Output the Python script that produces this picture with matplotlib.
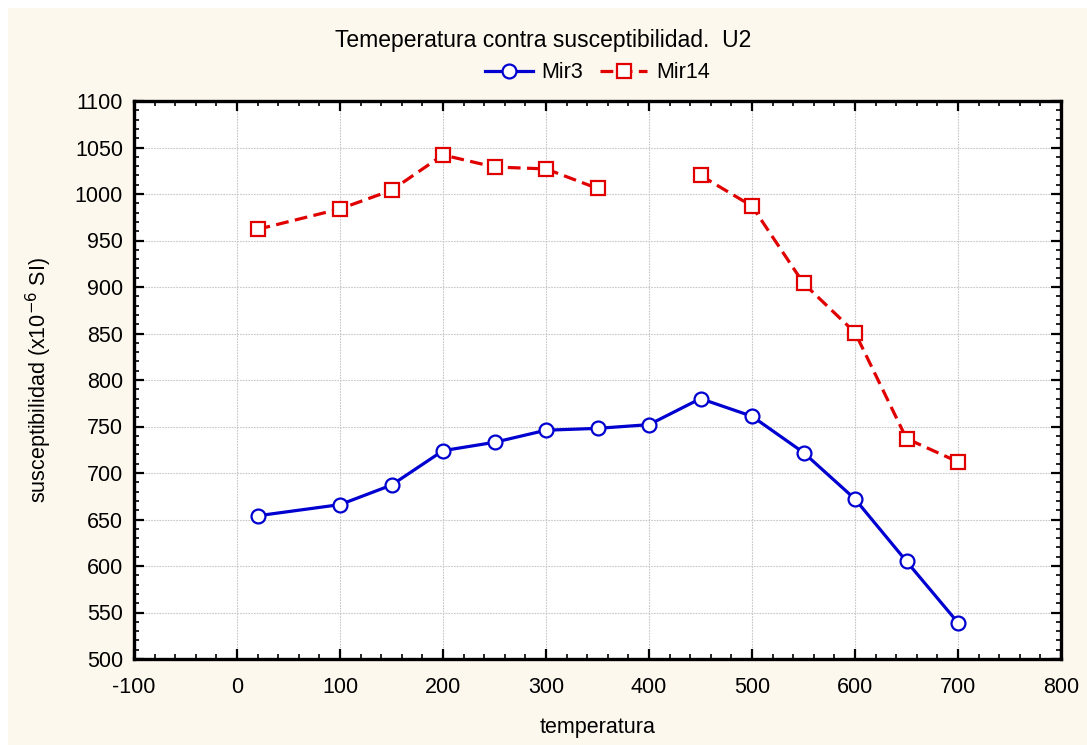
import numpy as np
import matplotlib
matplotlib.use("Agg")
import matplotlib.pyplot as plt
from matplotlib.patches import Rectangle
from matplotlib.ticker import MultipleLocator

plt.rcParams['font.family'] = ['Liberation Sans', 'DejaVu Sans']
plt.rcParams['axes.unicode_minus'] = False

# datos de temperatura y susceptibilidad
temperatura = [20, 100, 150, 200, 250, 300, 350, 400, 450, 500, 550, 600, 650, 700]
mir3 = [654, 666, 687, 724, 733, 746, 748, 752, 780, 761, 722, 672, 605, 539]
mir14 = [962, 984, 1004, 1042, 1029, 1027, 1006, np.nan, 1020, 987, 904, 851, 737, 712]

fondo = '#fdf8ee'
azul = '#0000d0'
rojo = '#e00000'
fs = 15.5
W, H = 1087, 745

fig = plt.figure(figsize=(W / 100, H / 100), dpi=100, facecolor='white')
# panel crema con borde blanco arriba e izquierda
fig.patches.append(Rectangle((8 / W, -0.01), 1.01, 1.01 - 8 / H, transform=fig.transFigure,
                             facecolor=fondo, edgecolor='none', zorder=-10))

ax = fig.add_axes([134 / W, 1 - 659 / H, (1061 - 134) / W, (659 - 101) / H])
ax.set_facecolor('white')

ax.plot(temperatura, mir3, color=azul, lw=2.3, marker='o', ms=10,
        mfc='white', mec=azul, mew=1.6, label='Mir3', zorder=3)
ax.plot(temperatura, mir14, color=rojo, lw=2.3, ls=(0, (4, 2)), marker='s', ms=10,
        mfc='white', mec=rojo, mew=1.6, label='Mir14', zorder=3)

ax.set_xlim(-100, 800)
ax.set_ylim(500, 1100)
ax.xaxis.set_major_locator(MultipleLocator(100))
ax.xaxis.set_minor_locator(MultipleLocator(20))
ax.yaxis.set_major_locator(MultipleLocator(50))
ax.yaxis.set_minor_locator(MultipleLocator(10))

ax.grid(True, which='major', color='#c8c8c8', ls=(0, (1.5, 1.0)), lw=0.8)
ax.tick_params(which='both', direction='in', top=True, right=True,
               labelsize=fs, color='black')
ax.tick_params(which='major', length=7, width=1.6)
ax.tick_params(which='minor', length=3.5, width=1.2)
ax.tick_params(axis='x', which='major', pad=13)
ax.tick_params(axis='y', which='major', pad=8)
for s in ax.spines.values():
    s.set_linewidth(2.4)

ax.set_xlabel('temperatura', fontsize=fs, va='center')
ax.set_ylabel('susceptibilidad (x10$^{-6}$ SI)', fontsize=fs, va='center')
ax.xaxis.set_label_coords(0.5, (659 - 728) / 558)
ax.yaxis.set_label_coords((39 - 134) / 927, 0.5)

fig.text(0.5, 1 - 40 / H, 'Temeperatura contra susceptibilidad.  U2',
         ha='center', va='center', fontsize=16.5)
ax.legend(loc='center', bbox_to_anchor=(0.5, 1 + (101 - 73) / 558), ncol=2,
          frameon=False, fontsize=fs, handlelength=2.2, columnspacing=0.8,
          handletextpad=0.4)

fig.savefig('out.png', dpi=100, facecolor='white')
